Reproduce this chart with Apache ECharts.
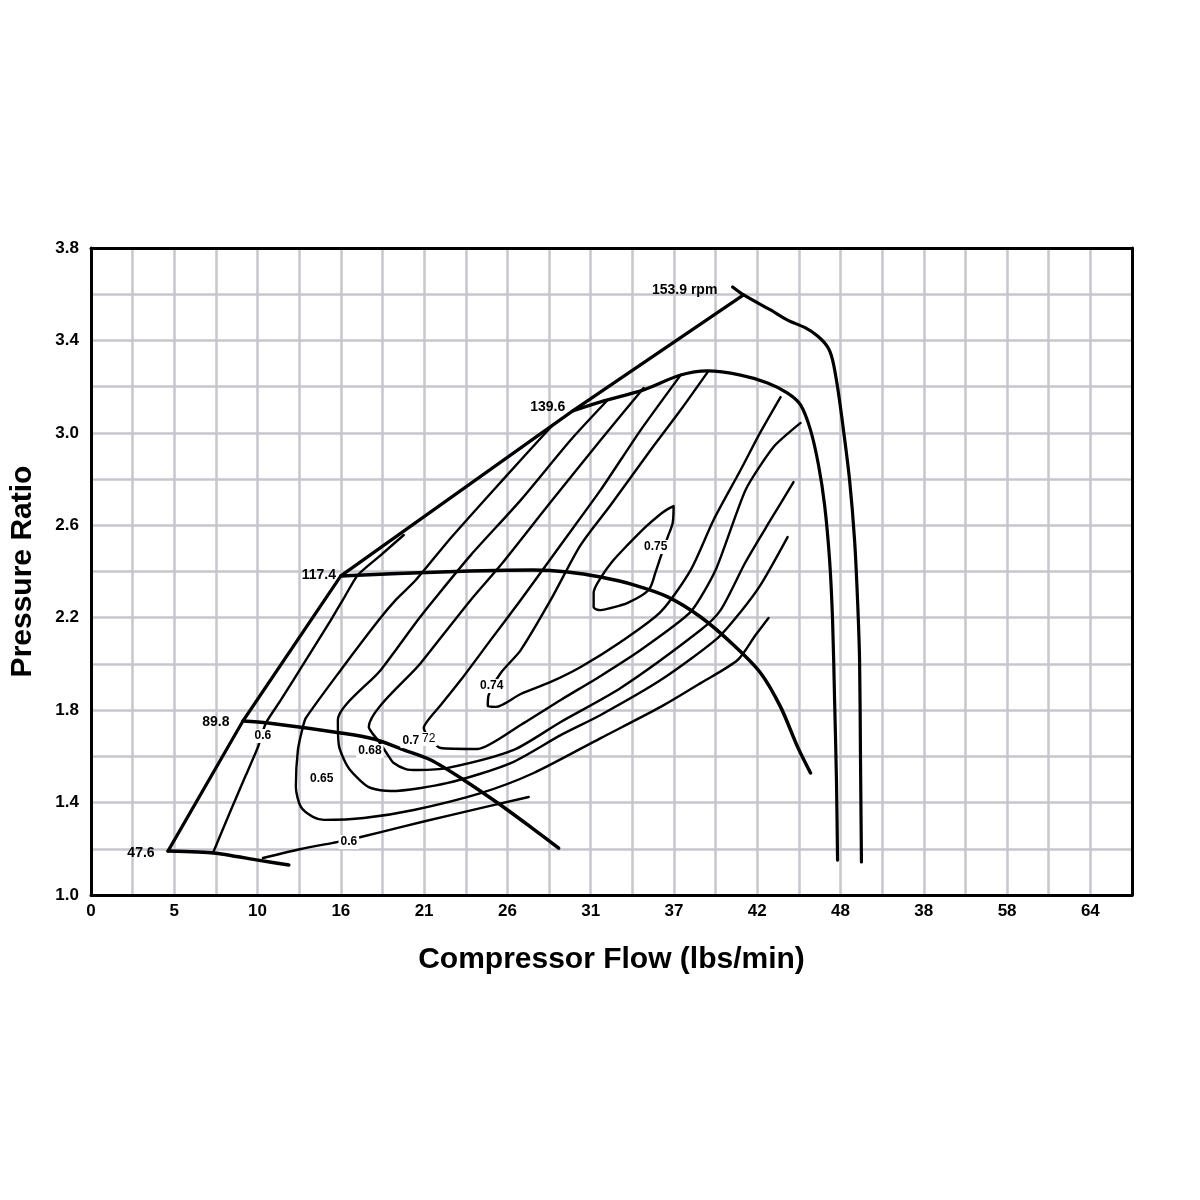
<!DOCTYPE html>
<html>
<head>
<meta charset="utf-8">
<title>Compressor map</title>
<script src="https://cdn.jsdelivr.net/npm/echarts@6/dist/echarts.min.js"></script>
<style>
  html, body { margin: 0; padding: 0; background: #fff; }
  #main { width: 1200px; height: 1200px; }
</style>
</head>
<body>
<div id="main"></div>
<script>
// one major grid column = 16/3 lbs/min
var FLOW_PER_LINE = 16 / 3;

var xTickLabels = ['0', '5', '10', '16', '21', '26', '31', '37', '42', '48', '38', '58', '64'];
var yTickLabels = ['1.0', '1.4', '1.8', '2.2', '2.6', '3.0', '3.4', '3.8'];

// [flow lbs/min, pressure ratio]
var surgeLine = [[4.93, 1.190], [9.73, 1.753], [16.0, 2.381], [30.85, 3.095], [41.79, 3.597]];

var speed476 = [[4.93, 1.190], [7.87, 1.182], [10.69, 1.151], [12.67, 1.130]];
var speed898 = [[9.73, 1.753], [11.33, 1.744], [16.0, 1.701], [18.11, 1.675], [20.03, 1.628],
  [21.76, 1.584], [23.87, 1.498], [26.05, 1.398], [28.16, 1.294], [29.95, 1.203]];
var speed1174 = [[16.0, 2.381], [22.4, 2.398], [28.35, 2.406], [30.53, 2.398], [32.64, 2.376],
  [34.75, 2.342], [36.93, 2.290], [39.04, 2.203], [41.15, 2.082], [42.88, 1.961],
  [44.16, 1.814], [45.25, 1.641], [46.08, 1.528]];
var speed1396 = [[30.85, 3.095], [32.64, 3.134], [35.39, 3.186], [37.76, 3.250], [39.49, 3.268],
  [41.6, 3.250], [43.33, 3.216], [44.61, 3.172], [45.44, 3.121], [46.08, 3.012],
  [46.59, 2.861], [46.98, 2.688], [47.3, 2.450], [47.49, 2.190], [47.62, 1.844],
  [47.74, 1.498], [47.81, 1.151]];
var speed1539 = [[41.09, 3.631], [41.79, 3.597], [43.52, 3.532], [44.61, 3.488], [45.76, 3.454],
  [46.53, 3.419], [47.17, 3.372], [47.49, 3.316], [47.81, 3.198], [48.19, 3.012],
  [48.58, 2.796], [48.9, 2.536], [49.09, 2.277], [49.22, 2.017], [49.28, 1.584], [49.34, 1.143]];

var eff060Left = [[20.03, 2.558], [18.56, 2.471], [17.09, 2.385], [16.13, 2.277], [15.36, 2.190],
  [13.44, 1.982], [12.16, 1.844], [11.2, 1.744], [10.69, 1.640], [9.92, 1.519],
  [8.96, 1.368], [7.81, 1.182]];
var eff060Low = [[11.01, 1.160], [13.44, 1.199], [15.74, 1.229], [17.28, 1.251], [19.84, 1.294],
  [23.04, 1.346], [28.03, 1.424]];
var eff065 = [[29.57, 3.034], [26.24, 2.787], [23.04, 2.545], [20.8, 2.363], [19.52, 2.277],
  [18.43, 2.190], [16.0, 1.974], [13.76, 1.766], [13.57, 1.727], [13.25, 1.628],
  [13.12, 1.467], [13.44, 1.381], [14.21, 1.338], [14.91, 1.325], [17.47, 1.333],
  [20.67, 1.368], [24.96, 1.441], [28.35, 1.528], [32.64, 1.679], [36.48, 1.814],
  [39.04, 1.917], [41.41, 2.017], [42.56, 2.125], [43.39, 2.199]];
var eff068 = [[33.09, 3.142], [30.72, 2.969], [27.52, 2.709], [24.32, 2.471], [21.95, 2.277],
  [20.93, 2.190], [18.56, 1.974], [15.81, 1.757], [15.87, 1.649], [16.45, 1.554],
  [17.28, 1.493], [17.92, 1.463], [19.2, 1.450], [22.85, 1.485], [26.88, 1.571],
  [30.08, 1.692], [32.64, 1.779], [36.48, 1.930], [40.13, 2.112], [41.6, 2.225],
  [42.88, 2.342], [44.61, 2.549]];
var eff070 = [[35.39, 3.194], [32.64, 2.969], [29.44, 2.701], [26.24, 2.428], [24.32, 2.277],
  [21.12, 2.004], [17.79, 1.727], [18.05, 1.697], [18.37, 1.671], [19.01, 1.606],
  [19.39, 1.571], [20.16, 1.545], [20.93, 1.541], [22.85, 1.550], [27.07, 1.628],
  [30.08, 1.749], [33.92, 1.896], [39.04, 2.147], [40.32, 2.233], [41.92, 2.441],
  [43.52, 2.623], [44.99, 2.787]];
var eff072 = [[37.76, 3.250], [35.2, 3.012], [32.64, 2.753], [30.08, 2.515], [27.52, 2.277],
  [25.6, 2.104], [23.68, 1.930], [22.4, 1.822], [21.31, 1.723], [22.4, 1.636],
  [24.77, 1.632], [27.52, 1.736], [30.08, 1.844], [32.64, 1.948], [35.2, 2.060],
  [38.4, 2.225], [40.0, 2.406], [41.92, 2.753], [43.71, 2.939], [45.44, 3.043]];
var eff074 = [[39.49, 3.263], [37.76, 3.099], [35.84, 2.926], [33.28, 2.688], [31.36, 2.515],
  [29.44, 2.277], [27.52, 2.060], [26.24, 1.961], [25.47, 1.866], [25.41, 1.818],
  [25.92, 1.814], [27.52, 1.870], [29.44, 1.922], [31.36, 1.987], [33.92, 2.095],
  [36.48, 2.225], [38.4, 2.406], [39.87, 2.623], [41.6, 2.839], [42.88, 3.004], [44.16, 3.155]];
var eff075 = [[37.31, 2.683], [37.25, 2.610], [36.93, 2.549], [36.48, 2.463], [36.16, 2.398],
  [35.71, 2.320], [34.37, 2.264], [33.28, 2.242], [32.64, 2.233], [32.19, 2.246],
  [32.19, 2.307], [32.64, 2.372], [33.41, 2.445], [34.37, 2.515], [35.52, 2.593],
  [36.48, 2.649], [36.93, 2.670], [37.31, 2.683]];

var speedLabels = [
  ['47.6', 3.2, 1.182], ['89.8', 8.0, 1.749], ['117.4', 14.59, 2.385],
  ['139.6', 29.25, 3.112], ['153.9 rpm', 38.02, 3.618]
];
var effLabels = [
  ['0.6', 11.01, 1.688], ['0.65', 14.78, 1.502], ['0.68', 17.86, 1.623], ['72', 21.63, 1.675],
  ['0.7', 20.48, 1.666], ['0.74', 25.66, 1.904], ['0.75', 36.16, 2.506], ['0.6', 16.51, 1.229]
];

var FONT = 'Liberation Sans, Arial, Helvetica, sans-serif';

function toXY(pts) {
  return pts.map(function (p) { return [p[0] / FLOW_PER_LINE, p[1]]; });
}

function curve(pts, width, smooth) {
  return {
    type: 'line',
    data: toXY(pts),
    showSymbol: false,
    smooth: smooth,
    silent: true,
    lineStyle: { color: '#000', width: width, cap: 'round', join: 'round' },
    z: 3
  };
}

function textSeries(list, size, bg) {
  return {
    type: 'scatter',
    symbolSize: 0,
    silent: true,
    z: 10,
    itemStyle: { opacity: 1, color: '#000' },
    data: list.map(function (l) {
      return {
        name: l[0],
        value: [l[1] / FLOW_PER_LINE, l[2]],
        label: { fontWeight: l[0] === '72' ? 'normal' : 'bold' }
      };
    }),
    label: {
      show: true,
      position: 'inside',
      formatter: '{b}',
      color: '#000',
      opacity: 1,
      textBorderWidth: 0,
      textBorderColor: 'transparent',
      fontFamily: FONT,
      fontSize: size,
      backgroundColor: bg,
      padding: bg ? [1, 2] : 0
    }
  };
}

var chart = echarts.init(document.getElementById('main'));

var gridLine = { show: true, lineStyle: { color: '#c6c6cc', width: 2.5 } };

var option = {
  animation: false,
  backgroundColor: '#fff',
  grid: { left: 90, right: 68, top: 248, bottom: 305 },
  xAxis: [
    {
      type: 'value',
      min: 0,
      max: 12.5,
      interval: 0.5,
      name: 'Compressor Flow (lbs/min)',
      nameLocation: 'middle',
      nameGap: 50,
      nameTextStyle: { fontFamily: FONT, fontSize: 30, fontWeight: 'bold', color: '#000' },
      axisLine: { show: true, onZero: false, lineStyle: { color: '#000', width: 3 } },
      axisTick: { show: false },
      axisLabel: {
        margin: 8,
        fontFamily: FONT, fontSize: 17, fontWeight: 'bold', color: '#000',
        formatter: function (v) {
          var i = Math.round(v * 2);
          return i % 2 === 0 && xTickLabels[i / 2] !== undefined ? xTickLabels[i / 2] : '';
        }
      },
      splitLine: gridLine
    },
    {
      type: 'value', position: 'top', min: 0, max: 12.5,
      axisLine: { show: true, onZero: false, lineStyle: { color: '#000', width: 3 } },
      axisTick: { show: false }, axisLabel: { show: false }, splitLine: { show: false }
    }
  ],
  yAxis: [
    {
      type: 'value',
      min: 1.0,
      max: 3.8,
      interval: 0.2,
      name: 'Pressure Ratio',
      nameLocation: 'middle',
      nameGap: 53,
      nameTextStyle: { fontFamily: FONT, fontSize: 30, fontWeight: 'bold', color: '#000' },
      axisLine: { show: true, onZero: false, lineStyle: { color: '#000', width: 3 } },
      axisTick: { show: false },
      axisLabel: {
        margin: 12,
        fontFamily: FONT, fontSize: 17, fontWeight: 'bold', color: '#000',
        formatter: function (v) {
          var i = Math.round((v - 1) * 5);
          return i % 2 === 0 ? yTickLabels[i / 2] : '';
        }
      },
      splitLine: gridLine
    },
    {
      type: 'value', position: 'right', min: 1.0, max: 3.8,
      axisLine: { show: true, onZero: false, lineStyle: { color: '#000', width: 3 } },
      axisTick: { show: false }, axisLabel: { show: false }, splitLine: { show: false }
    }
  ],
  series: [
    curve(surgeLine, 3.2, false),
    curve(speed476, 3.5, 0.2),
    curve(speed898, 3.5, 0.3),
    curve(speed1174, 3.5, 0.3),
    curve(speed1396, 3.2, 0.3),
    curve(speed1539, 3.2, 0.3),
    curve(eff060Left, 2.4, 0.2),
    curve(eff060Low, 2.4, 0.2),
    curve(eff065, 2.4, 0.25),
    curve(eff068, 2.4, 0.25),
    curve(eff070, 2.4, 0.25),
    curve(eff072, 2.4, 0.2),
    curve(eff074, 2.4, 0.25),
    curve(eff075, 2.4, 0.3),
    textSeries(speedLabels, 14, null),
    textSeries(effLabels, 12, '#fff')
  ]
};

chart.setOption(option);
</script>
</body>
</html>
